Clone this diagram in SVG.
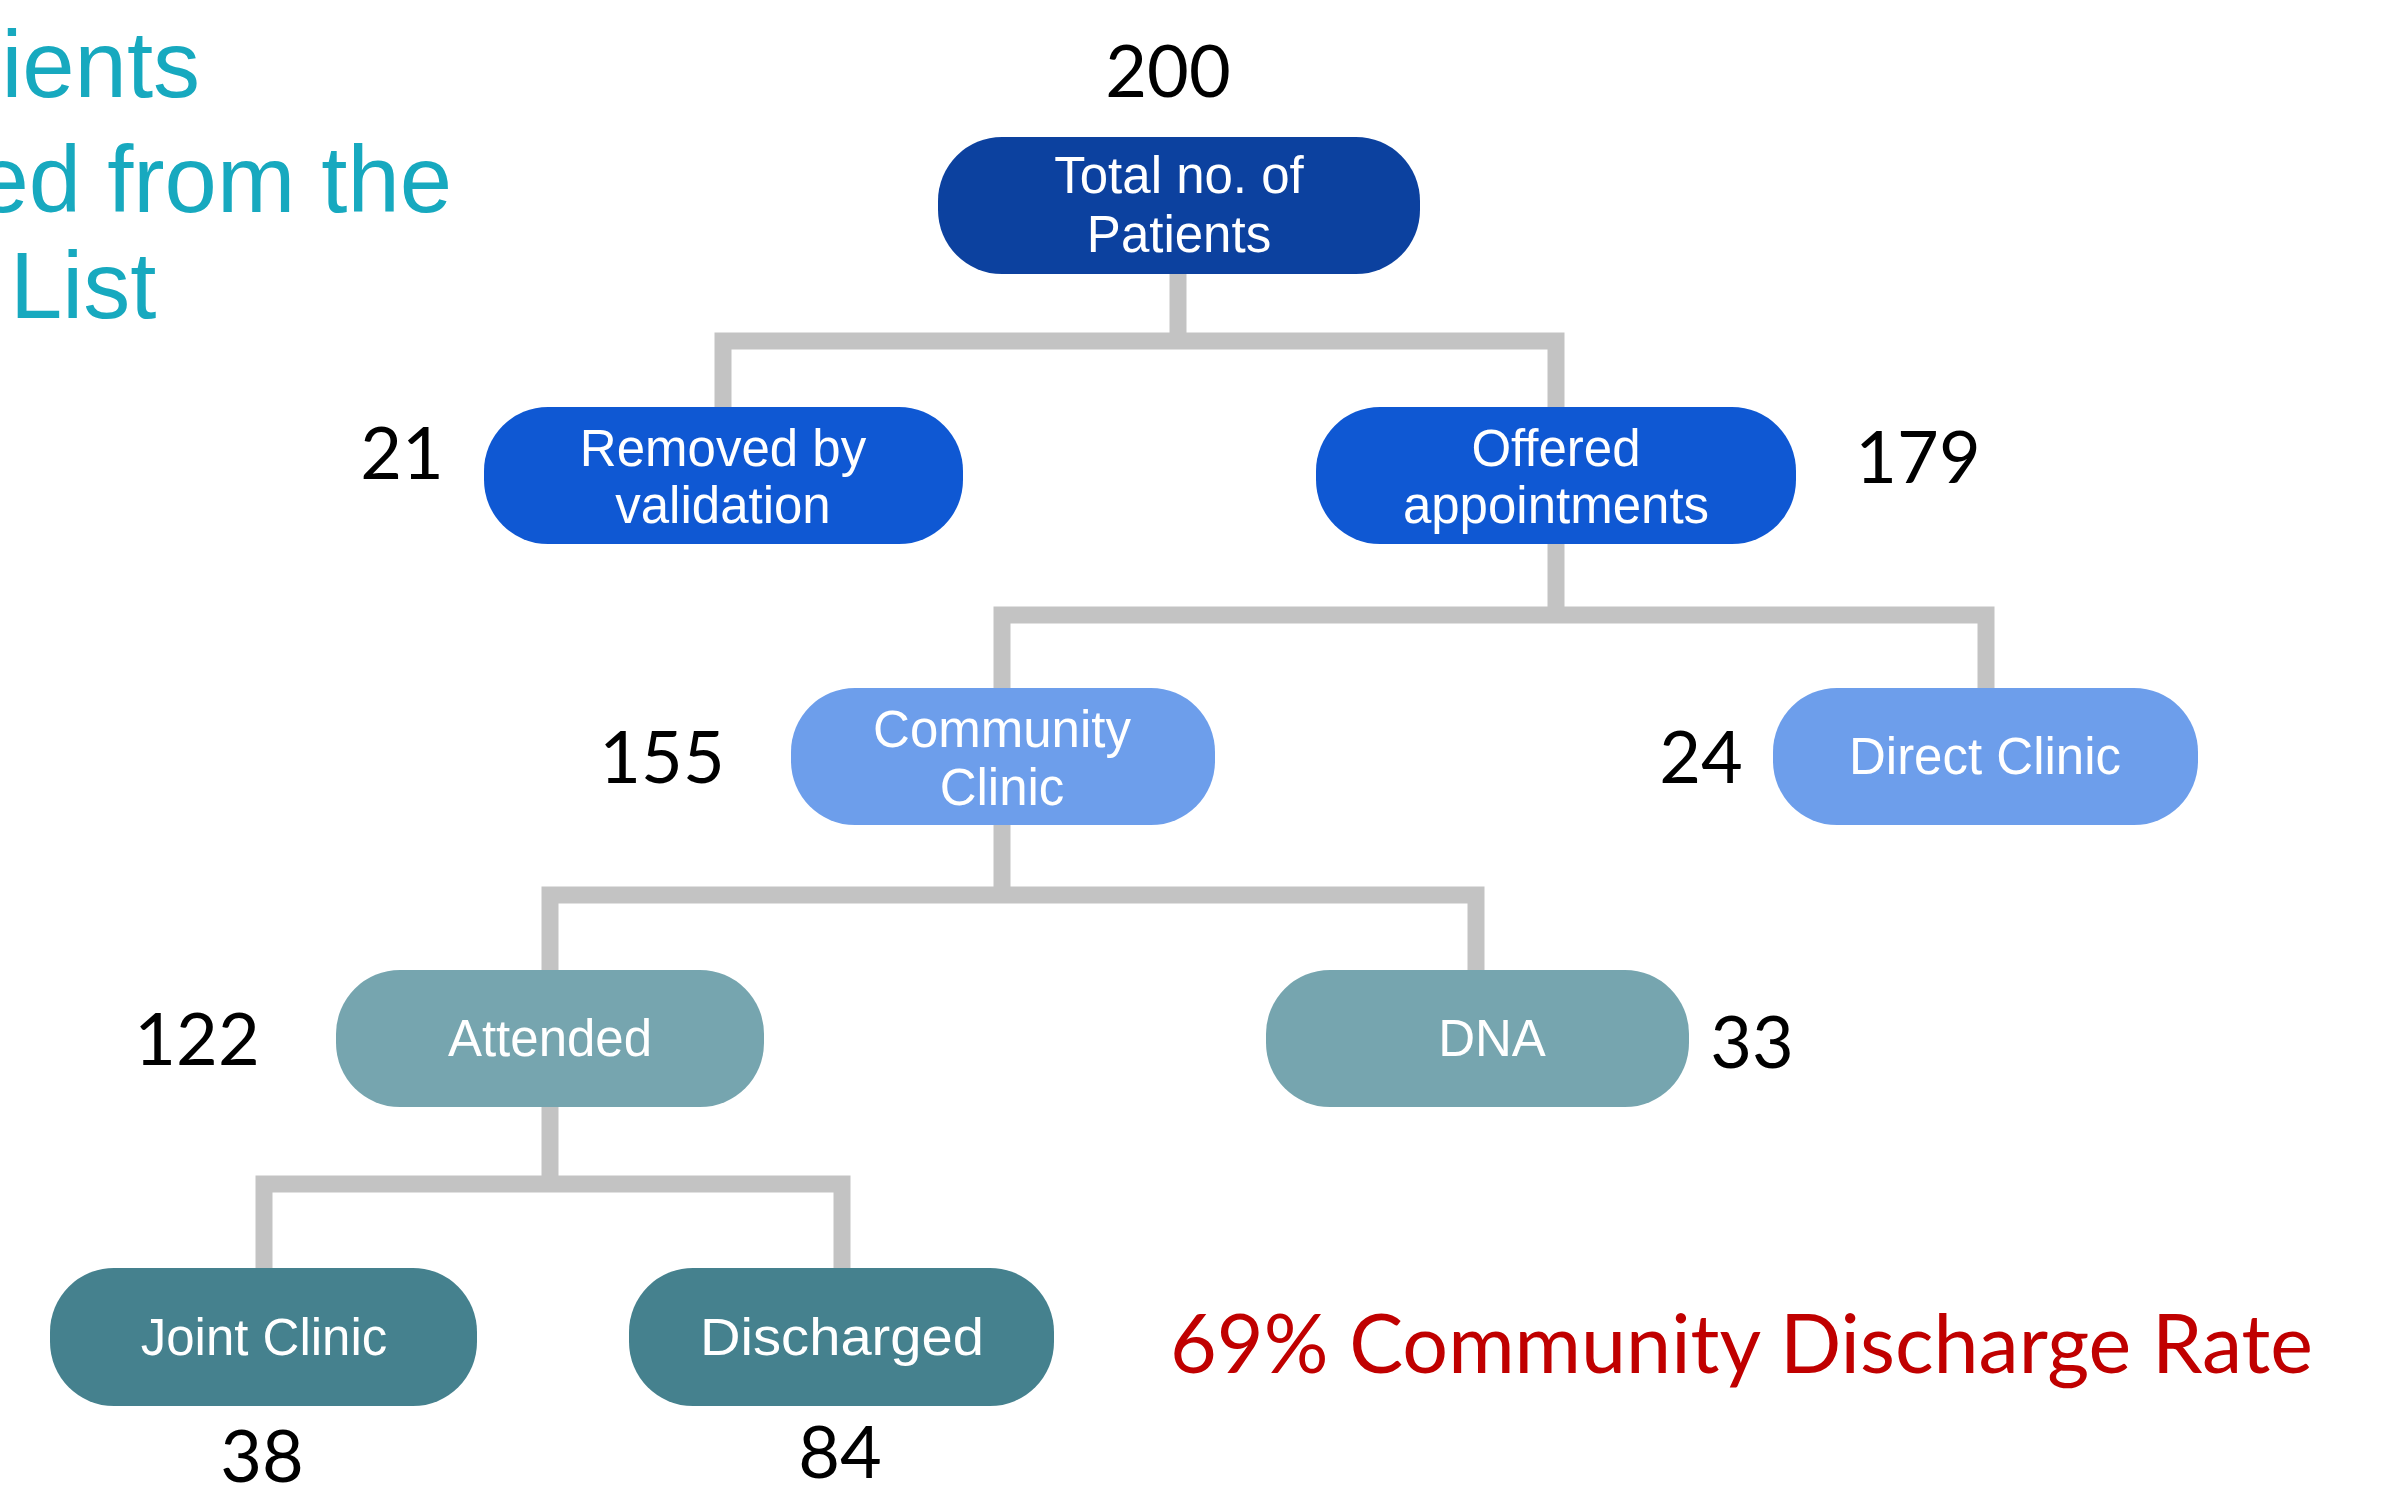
<svg xmlns="http://www.w3.org/2000/svg" width="2387" height="1485" viewBox="0 0 2387 1485">
  <style>
    .bg { fill: #ffffff; }
    .link { fill: none; stroke: #c3c3c3; stroke-width: 17; stroke-linejoin: miter; stroke-linecap: butt; }
    .lbl { font-family: "Liberation Sans", Arial, sans-serif; font-size: 51px; fill: #ffffff; text-anchor: middle; }
    .num { font-family: Lato, "Open Sans", sans-serif; font-size: 72px; fill: #000000; text-anchor: middle; }
    .title { font-family: "Liberation Sans", Arial, sans-serif; font-size: 94px; fill: #17a9bf; }
    .rate { font-family: Lato, "Open Sans", sans-serif; font-size: 81px; fill: #c00000; }
    .l1 { fill: #0c419f; }
    .l2 { fill: #0f58d3; }
    .l3 { fill: #6d9eeb; }
    .l4 { fill: #76a5af; }
    .l5 { fill: #45818e; }
  </style>

  <rect class="bg" x="0" y="0" width="2387" height="1485"/>

  <!-- heading text, running off the left edge -->
  <g id="heading">
    <text class="title" x="200" y="97" text-anchor="end">ients</text>
    <text class="title" x="452" y="212" text-anchor="end">ed from the</text>
    <text class="title" x="10" y="318">List</text>
  </g>

  <!-- tree connectors -->
  <g id="connectors">
    <path class="link" d="M1178,274 V341"/>
    <path class="link" d="M723,407 V341 H1556 V407"/>
    <path class="link" d="M1556,544 V615"/>
    <path class="link" d="M1002,688 V615 H1986 V688"/>
    <path class="link" d="M1002,825 V895"/>
    <path class="link" d="M550,970 V895 H1476 V970"/>
    <path class="link" d="M550,1106 V1184"/>
    <path class="link" d="M264,1268 V1184 H842 V1268"/>
  </g>

  <g id="node-total">
    <rect class="l1" x="938" y="137" width="482" height="137" rx="64" ry="64"/>
    <text class="lbl" x="1179" y="193">Total no. of</text>
    <text class="lbl" x="1179" y="252">Patients</text>
    <text class="num" x="1168" y="97">200</text>
  </g>

  <g id="node-removed">
    <rect class="l2" x="484" y="407" width="479" height="137" rx="64" ry="64"/>
    <text class="lbl" x="723" y="466">Removed by</text>
    <text class="lbl" x="723" y="523">validation</text>
    <text class="num" x="402" y="479">21</text>
  </g>

  <g id="node-offered">
    <rect class="l2" x="1316" y="407" width="480" height="137" rx="64" ry="64"/>
    <text class="lbl" x="1556" y="466">Offered</text>
    <text class="lbl" x="1556" y="523">appointments</text>
    <text class="num" x="1918" y="483">179</text>
  </g>

  <g id="node-community">
    <rect class="l3" x="791" y="688" width="424" height="137" rx="64" ry="64"/>
    <text class="lbl" x="1002" y="747">Community</text>
    <text class="lbl" x="1002" y="805">Clinic</text>
    <text class="num" x="662" y="783">155</text>
  </g>

  <g id="node-direct">
    <rect class="l3" x="1773" y="688" width="425" height="137" rx="64" ry="64"/>
    <text class="lbl" x="1985" y="774">Direct Clinic</text>
    <text class="num" x="1701" y="783">24</text>
  </g>

  <g id="node-attended">
    <rect class="l4" x="336" y="970" width="428" height="137" rx="64" ry="64"/>
    <text class="lbl" x="550" y="1056">Attended</text>
    <text class="num" x="197" y="1065">122</text>
  </g>

  <g id="node-dna">
    <rect class="l4" x="1266" y="970" width="423" height="137" rx="64" ry="64"/>
    <text class="lbl" x="1492" y="1056">DNA</text>
    <text class="num" x="1752" y="1068">33</text>
  </g>

  <g id="node-joint">
    <rect class="l5" x="50" y="1268" width="427" height="138" rx="64" ry="64"/>
    <text class="lbl" x="264" y="1355">Joint Clinic</text>
    <text class="num" x="262" y="1482">38</text>
  </g>

  <g id="node-discharged">
    <rect class="l5" x="629" y="1268" width="425" height="138" rx="64" ry="64"/>
    <text class="lbl" x="842" y="1355" textLength="284" lengthAdjust="spacingAndGlyphs">Discharged</text>
    <text class="num" x="840" y="1478">84</text>
  </g>

  <text class="rate" x="1170" y="1373" textLength="1143" lengthAdjust="spacingAndGlyphs">69% Community Discharge Rate</text>
</svg>
